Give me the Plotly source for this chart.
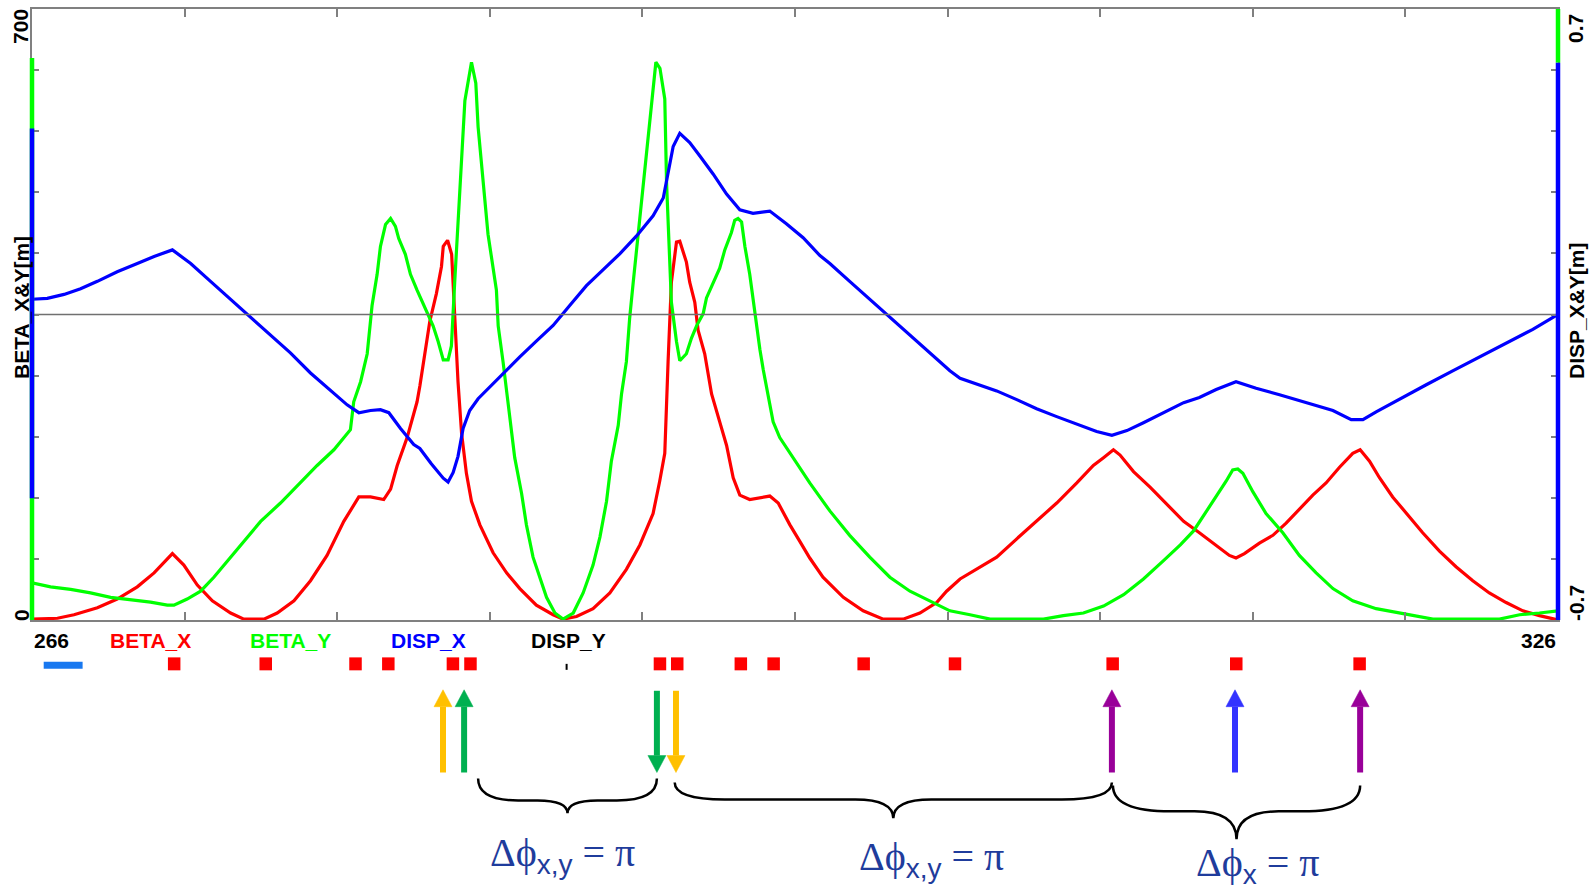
import plotly.graph_objects as go

# ---------------- lattice functions along s [m] ----------------
s_betx = [266.0, 267.0, 267.65, 268.57, 269.35, 270.14, 270.8, 271.52, 271.97, 272.5, 273.09, 273.81,
          274.33, 275.12, 275.64, 276.3, 276.95, 277.6, 278.26, 278.85, 279.31, 279.83, 280.1, 280.36,
          280.75, 281.14, 281.25, 281.44, 281.54, 281.64, 281.9, 282.1, 282.17, 282.34, 282.5, 282.62,
          282.75, 282.89, 283.08, 283.28, 283.61, 284.13, 284.66, 285.18, 285.83, 286.49, 286.88,
          287.41, 288.06, 288.72, 289.37, 289.9, 290.42, 290.68, 290.88, 291.01, 291.14, 291.34,
          291.47, 291.73, 291.86, 292.06, 292.19, 292.45, 292.72, 293.04, 293.31, 293.57, 293.83,
          294.22, 295.01, 295.34, 295.8, 296.19, 296.58, 297.1, 297.9, 298.68, 299.47, 300.25,
          300.91, 301.57, 301.96, 302.49, 303.14, 303.93, 304.72, 305.5, 306.29, 307.08, 307.73,
          308.13, 308.52, 308.78, 309.31, 309.97, 310.62, 311.28, 311.9, 312.43, 313.08, 313.34,
          313.67, 314.26, 314.79, 315.31, 315.83, 316.36, 316.88, 317.41, 317.93, 318.22, 318.59,
          318.98, 319.5, 320.03, 320.68, 321.34, 321.99, 322.65, 323.3, 323.96, 324.62, 325.27, 326.0]
betx = [1, 2, 6, 14, 24, 38, 54, 76, 63, 40, 22, 8,
        1, 1, 8, 22, 45, 74, 113, 141, 141, 138, 150, 177,
        209, 250, 268, 305, 319, 342, 374, 405, 428, 435, 419, 342,
        273, 214, 168, 136, 109, 77, 54, 36, 17, 6, 1,
        4, 13, 31, 58, 86, 122, 159, 191, 296, 387, 433,
        434, 410, 387, 364, 332, 305, 259, 227, 200, 163, 143,
        138, 142, 134, 109, 90, 71, 49, 26, 10.5, 1, 1,
        8, 20, 33, 47, 58, 72, 93, 113, 134, 157, 177,
        186, 195, 189, 170, 152, 132, 113, 100, 88, 74, 71,
        76, 88, 97, 111, 127, 143, 157, 175, 191, 195, 182,
        163, 141, 122, 100, 79, 61, 45, 31, 20, 10.5, 5, 0]

s_bety = [266.0, 266.73, 267.52, 268.3, 269.09, 269.88, 270.66, 271.32, 271.58, 272.1, 272.63, 273.15,
          273.81, 274.33, 274.99, 275.77, 276.43, 277.21, 277.87, 278.52, 278.65, 278.92, 279.18,
          279.37, 279.57, 279.7, 279.9, 280.1, 280.29, 280.42, 280.68, 280.88, 281.14, 281.3, 281.51,
          281.77, 281.97, 282.17, 282.36, 282.49, 282.62, 282.75, 282.89, 283.02, 283.28, 283.45,
          283.54, 283.74, 283.93, 284.26, 284.33, 284.52, 284.79, 284.98, 285.25, 285.44, 285.7,
          285.97, 286.23, 286.56, 286.88, 287.28, 287.67, 288.06, 288.33, 288.59, 288.78, 289.05,
          289.18, 289.37, 289.5, 289.64, 289.77, 289.96, 290.16, 290.36, 290.53, 290.69, 290.88,
          290.95, 291.01, 291.14, 291.34, 291.47, 291.73, 291.93, 292.13, 292.39, 292.52, 292.78,
          293.04, 293.24, 293.5, 293.63, 293.76, 293.9, 294.03, 294.22, 294.42, 294.62, 294.75,
          294.94, 295.14, 295.4, 295.8, 296.19, 296.58, 297.37, 298.15, 298.94, 299.73, 300.52,
          301.3, 302.09, 302.88, 303.67, 305.77, 306.55, 307.34, 308.13, 308.92, 309.7, 310.49,
          311.15, 311.67, 311.9, 312.2, 312.43, 312.95, 313.21, 313.41, 313.61, 314.0, 314.52,
          315.18, 315.83, 316.49, 317.15, 317.93, 318.85, 320.03, 321.08, 323.7, 324.49, 325.27, 326.0]
bety = [42.5, 38, 35, 31, 26, 23, 20.5, 17, 17, 24, 33, 49,
        72, 90, 113, 134, 154, 177, 195, 218, 250, 273, 305,
        360, 396, 428, 453, 460, 451, 437, 419, 396, 378, 368, 355,
        337, 319, 298, 298, 314, 387, 456, 529, 595, 639, 615,
        565, 506, 442, 378, 337, 296, 227, 186, 145, 109, 72,
        49, 26, 8, 1, 8, 31, 63, 95, 136, 182, 223,
        259, 296, 346, 387, 424, 479, 533, 593, 639, 632, 597,
        501, 451, 364, 319, 297, 305, 323, 337, 351, 369, 387,
        403, 424, 444, 458, 460, 456, 428, 396, 351, 310, 287,
        259, 227, 209, 191, 173, 157, 125, 97, 72, 49, 33,
        22, 10.5, 6, 1, 1, 5, 8, 16, 29, 47, 68,
        86, 102, 112, 126, 136, 159, 172, 173, 168, 147, 122,
        100, 74, 54, 36, 22, 13, 7, 1, 1, 6, 8, 10.5]

s_dx = [266.0, 266.6, 267.26, 267.91, 268.57, 269.35, 270.14, 270.8, 271.52, 272.24, 273.02, 273.81,
        274.59, 275.38, 276.16, 276.95, 277.74, 278.39, 278.85, 279.31, 279.7, 280.03, 280.49,
        281.01, 281.25, 281.7, 282.17, 282.36, 282.56, 282.75, 282.95, 283.21, 283.54, 284.0,
        284.52, 285.18, 285.83, 286.49, 287.15, 287.8, 288.46, 289.11, 289.77, 290.42, 290.82,
        291.01, 291.21, 291.47, 291.86, 292.26, 292.78, 293.31, 293.83, 294.35, 295.01, 295.66,
        296.32, 296.98, 297.37, 298.15, 298.94, 299.73, 300.52, 301.3, 302.09, 302.49, 303.14,
        303.93, 304.72, 305.5, 306.29, 307.08, 307.86, 308.46, 309.05, 309.7, 310.49, 311.28,
        311.9, 312.56, 313.34, 314.13, 315.05, 316.1, 317.15, 317.87, 318.33, 318.85, 319.77,
        320.82, 321.86, 322.91, 323.96, 325.01, 326.0]
dx = [0.035, 0.037, 0.046, 0.059, 0.076, 0.098, 0.117, 0.133, 0.148, 0.117, 0.076, 0.035,
      -0.006, -0.047, -0.088, -0.134, -0.175, -0.207, -0.225, -0.22, -0.218, -0.225, -0.261,
      -0.298, -0.307, -0.342, -0.375, -0.384, -0.362, -0.325, -0.261, -0.22, -0.193, -0.166,
      -0.134, -0.097, -0.061, -0.025, 0.021, 0.066, 0.103, 0.139, 0.18, 0.226, 0.267,
      0.322, 0.385, 0.415, 0.394, 0.363, 0.322, 0.276, 0.24, 0.232, 0.237, 0.208,
      0.176, 0.135, 0.117, 0.076, 0.035, -0.006, -0.047, -0.088, -0.129, -0.146, -0.159,
      -0.175, -0.195, -0.216, -0.234, -0.252, -0.268, -0.277, -0.266, -0.248, -0.225, -0.202,
      -0.19, -0.172, -0.154, -0.169, -0.184, -0.202, -0.22, -0.241, -0.241, -0.223, -0.195,
      -0.161, -0.129, -0.097, -0.066, -0.034, 0.0]

s_dy = [266.0, 326.0]
dy = [0.0, 0.0]

# ---------------- lattice elements ----------------
quad_s = [271.59, 275.19, 278.72, 280.01, 282.55, 283.24, 290.69, 291.37, 293.87,
          295.16, 298.70, 302.29, 308.49, 313.35, 318.20]
bend_span = [266.46, 267.99]
monitor_s = [287.02]

# phase-advance markers below the lattice
arrow_s = [282.16, 282.99, 290.57, 291.32, 308.46, 313.30, 318.22]
arrow_dir = ["up", "up", "down", "down", "up", "up", "up"]
arrow_col = ["#FFC000", "#00B050", "#00B050", "#FFC000", "#990099", "#3333FF", "#990099"]

brace_spans = [(283.54, 290.57), (291.27, 308.46), (308.50, 318.22)]
brace_labels = ["x,y", "x,y", "x"]
label_s = [286.85, 301.37, 314.20]

# ---------------- page geometry ----------------
W, H = 1594, 889
ML, MR, MT, MB = 32, 36, 7, 269
PW, PH = W - ML - MR, H - MT - MB
S0, S1 = 266.0, 326.0
PX_PER_M = PW / (S1 - S0)


def ypx(p):
    """page pixel row -> paper y"""
    return (H - MB - p) / PH


def xpx(p):
    """page pixel column -> paper x"""
    return (p - ML) / PW


AX = "#808080"
fig = go.Figure()
fig.add_trace(go.Scatter(x=s_betx, y=betx, mode="lines", line=dict(color="#FF0000", width=3.2), name="BETA_X"))
fig.add_trace(go.Scatter(x=s_bety, y=bety, mode="lines", line=dict(color="#00FF00", width=3.2), name="BETA_Y"))
fig.add_trace(go.Scatter(x=s_dx, y=dx, mode="lines", line=dict(color="#0000FF", width=3.2), name="DISP_X", yaxis="y2"))
fig.add_trace(go.Scatter(x=s_dy, y=dy, mode="lines", line=dict(color="#707070", width=1.5), name="DISP_Y", yaxis="y2"))

shapes = []
# coloured range bars on the vertical axes
shapes += [
    dict(type="line", xref="paper", yref="y", x0=0, x1=0, y0=0, y1=644, line=dict(color="#00FF00", width=4.5)),
    dict(type="line", xref="paper", yref="y2", x0=0, x1=0, y0=-0.421, y1=0.426, line=dict(color="#0000FF", width=4.5)),
    dict(type="line", xref="paper", yref="y2", x0=1, x1=1, y0=0.577, y1=0.7, line=dict(color="#00FF00", width=4.5)),
    dict(type="line", xref="paper", yref="y2", x0=1, x1=1, y0=-0.7, y1=0.577, line=dict(color="#0000FF", width=4.5)),
]

# quadrupoles, bend and monitor
qh = 12.5 / PX_PER_M / 2
for s in quad_s:
    shapes.append(dict(type="rect", xref="x", yref="paper", x0=s - qh, x1=s + qh,
                       y0=ypx(670.5), y1=ypx(657.5), fillcolor="#FF0000", line=dict(width=0)))
shapes.append(dict(type="rect", xref="x", yref="paper", x0=bend_span[0], x1=bend_span[1],
                   y0=ypx(669), y1=ypx(662), fillcolor="#1878F0", line=dict(width=0)))
for s in monitor_s:
    shapes.append(dict(type="line", xref="x", yref="paper", x0=s, x1=s, y0=ypx(670), y1=ypx(664),
                       line=dict(color="black", width=2)))

# arrows
head_w = 18 / PX_PER_M / 2
head_h = 17
for s, d, c in zip(arrow_s, arrow_dir, arrow_col):
    if d == "up":
        tip, tail = 690, 773
        base = tip + head_h
    else:
        tip, tail = 773, 691
        base = tip - head_h
    shapes.append(dict(type="line", xref="x", yref="paper", x0=s, x1=s, y0=ypx(tail), y1=ypx(base),
                       line=dict(color=c, width=6)))
    shapes.append(dict(type="path", xref="x", yref="paper",
                       path=f"M{s - head_w},{ypx(base)} L{s + head_w},{ypx(base)} L{s},{ypx(tip)} Z",
                       fillcolor=c, line=dict(color=c, width=0.5)))

# curly braces
brace_geom = [(779, 801, 814, 40, 30), (783, 800, 819, 50, 38), (786, 812, 840, 58, 42)]
for (s0, s1), (ya, yb, yc, re, rm) in zip(brace_spans, brace_geom):
    sm = 0.5 * (s0 + s1)
    r1, r2 = re / PX_PER_M, rm / PX_PER_M
    pa, pb, pc = ypx(ya), ypx(yb), ypx(yc)
    path = (f"M{s0},{pa} Q{s0},{pb} {s0 + r1},{pb} L{sm - r2},{pb} Q{sm},{pb} {sm},{pc} "
            f"Q{sm},{pb} {sm + r2},{pb} L{s1 - r1},{pb} Q{s1},{pb} {s1},{pa}")
    shapes.append(dict(type="path", xref="x", yref="paper", path=path, line=dict(color="black", width=2.5)))

annotations = []
bold = dict(family="Liberation Sans, Arial, sans-serif", size=21)


def label(text, x, y, color="black", angle=0, xanchor="center", xref="paper"):
    annotations.append(dict(text=f"<b>{text}</b>", x=x, y=y, xref=xref, yref="paper", showarrow=False,
                            textangle=angle, xanchor=xanchor, yanchor="middle",
                            font=dict(bold, color=color)))


# axis-end labels and curve names
label("266", S0, ypx(641), xanchor="left", xref="x")
label("326", S1, ypx(641), xanchor="right", xref="x")
for name, col, xc in [("BETA_X", "#FF0000", 150), ("BETA_Y", "#00FF00", 290),
                      ("DISP_X", "#0000FF", 428), ("DISP_Y", "black", 568)]:
    label(name, xpx(xc), ypx(641), color=col)

# rotated axis titles and extreme values
label("BETA_X&Y[m]", xpx(21), ypx(307), angle=-90)
label("DISP_X&Y[m]", xpx(1576), ypx(310), angle=-90)
label("700", xpx(21), ypx(25), angle=-90)
label("0", xpx(21), ypx(615), angle=-90)
label("0.7", xpx(1576), ypx(27), angle=-90)
label("-0.7", xpx(1576), ypx(603), angle=-90)

# phase advance labels under the braces
serif = "font-family:Liberation Serif"
for xs, sub, yc in zip(label_s, brace_labels, [856, 860, 866]):
    txt = f'<span style="{serif}">Δϕ</span><sub>{sub}</sub><span style="{serif}"> = π</span>'
    annotations.append(dict(text=txt, x=xs, y=ypx(yc), xref="x", yref="paper",
                            showarrow=False, xanchor="center", yanchor="middle",
                            font=dict(family="Liberation Sans, Arial, sans-serif", size=40, color="#1F3C9C")))

ticks_common = dict(showline=True, linecolor=AX, linewidth=2, ticks="inside", tickcolor=AX, tickwidth=1.5,
                    showticklabels=False, showgrid=False, zeroline=False)
fig.update_layout(
    width=W, height=H, autosize=False,
    margin=dict(l=ML, r=MR, t=MT, b=MB, pad=0),
    paper_bgcolor="white", plot_bgcolor="white", showlegend=False,
    xaxis=dict(range=[S0, S1], mirror="ticks", ticklen=8, tickvals=list(range(272, 326, 6)), **ticks_common),
    yaxis=dict(range=[0, 700], ticklen=7, tickvals=[70 * i for i in range(11)], **ticks_common),
    yaxis2=dict(range=[-0.7, 0.7], overlaying="y", side="right", ticklen=7,
                tickvals=[round(-0.7 + 0.14 * i, 2) for i in range(11)], **ticks_common),
    shapes=shapes, annotations=annotations,
)

fig.write_html("out.html")
